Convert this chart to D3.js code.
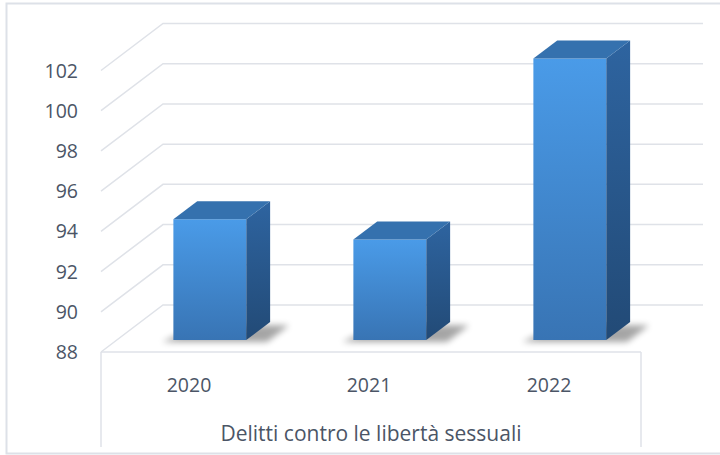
<!DOCTYPE html>
<html>
<head>
<meta charset="utf-8">
<script src="https://cdn.jsdelivr.net/npm/d3@7"></script>
<style>
  html, body { margin: 0; padding: 0; background: #ffffff; }
  svg { display: block; }
  text { font-family: "Open Sans", "Noto Sans", sans-serif; fill: #4b5566; }
</style>
</head>
<body>
<script>
// Data
const categories = ["2020", "2021", "2022"];
const values = [94, 93, 102];
const yTicks = [88, 90, 92, 94, 96, 98, 100, 102];
const groupLabel = "Delitti contro le libertà sessuali";

const W = 720, H = 455;
const svg = d3.select("body").append("svg").attr("width", W).attr("height", H);

// Front plane of the 3D box (depth 0) and the depth vector to the back wall (depth 1)
const floorLeft = 101, floorRight = 641;
const depthVec = [62, -47];
const y = d3.scaleLinear().domain([88, 102]).range([352, 70.5]);
const x = d3.scaleBand().domain(categories).range([floorLeft, floorRight])
  .paddingInner(0.595).paddingOuter(0.2975);
const barShift = 3;

// project a point at front-plane x, value v and depth d
const P = (px, v, d) => [px + d * depthVec[0], y(v) + d * depthVec[1]];

const gridColor = "#dfe2e8";
const defs = svg.append("defs");

// Outer chart border
svg.append("path")
  .attr("d", `M${W + 2},3.5 H6.5 V453.5 H${W + 2}`)
  .attr("fill", "none").attr("stroke", "#dde1e8").attr("stroke-width", 2);

// Gridlines: side wall diagonals + back wall horizontals
const grid = svg.append("g").attr("fill", "none").attr("stroke", gridColor).attr("stroke-width", 1.5);
yTicks.forEach(v => {
  const a = P(floorLeft, v, 0), b = P(floorLeft, v, 1), c = P(floorRight, v, 1);
  grid.append("path").attr("d", `M${a[0]},${a[1]} L${b[0]},${b[1]} L${c[0]},${c[1]}`);
});

// Floor front edge and multi-level category separators
const f0 = P(floorLeft, 88, 0), f1 = P(floorRight, 88, 0);
grid.append("path").attr("d", `M${f0[0]},${f0[1]} H${f1[0]}`);
grid.append("path").attr("d", `M${f0[0]},${f0[1]} V447`);
grid.append("path").attr("d", `M${f1[0]},${f1[1]} V447`);

// Value axis labels
svg.append("g").selectAll("text").data(yTicks).join("text")
  .attr("x", 78).attr("y", d => y(d)).attr("dy", "0.36em")
  .attr("text-anchor", "end").attr("font-size", 19.5)
  .text(d => d);

// Category labels
svg.append("g").selectAll("text").data(categories).join("text")
  .attr("x", d => x(d) + x.bandwidth() / 2 - 2).attr("y", 385).attr("dy", "0.36em")
  .attr("text-anchor", "middle").attr("font-size", 19.5)
  .text(d => d);

svg.append("text")
  .attr("x", (floorLeft + floorRight) / 2).attr("y", 433).attr("dy", "0.36em")
  .attr("text-anchor", "middle").attr("font-size", 21)
  .text(groupLabel);

// Gradients for the bar faces
const gFront = defs.append("linearGradient").attr("id", "gFront").attr("x1", 0).attr("y1", 0).attr("x2", 0).attr("y2", 1);
gFront.append("stop").attr("offset", "0%").attr("stop-color", "#4a9be8");
gFront.append("stop").attr("offset", "100%").attr("stop-color", "#3874b4");
const gSide = defs.append("linearGradient").attr("id", "gSide").attr("x1", 0).attr("y1", 0).attr("x2", 0).attr("y2", 1);
gSide.append("stop").attr("offset", "0%").attr("stop-color", "#2e64a0");
gSide.append("stop").attr("offset", "100%").attr("stop-color", "#224a76");
const blur = defs.append("filter").attr("id", "shadowBlur")
  .attr("x", "-50%").attr("y", "-50%").attr("width", "200%").attr("height", "200%");
blur.append("feGaussianBlur").attr("stdDeviation", 3);

// Bars occupy depth d0..d1 of the box
const d0 = 12 / 47, d1 = 0.64;
const poly = pts => "M" + pts.map(p => p.join(",")).join("L") + "Z";

const bars = svg.append("g");
categories.forEach((c, i) => {
  const v = values[i];
  const xl = x(c) + barShift, xr = xl + x.bandwidth();
  const g = bars.append("g");

  // soft shadow on the floor around the base
  const s = [P(xl - 10, 88, d0 - 0.02), P(xr + 22, 88, d0 - 0.02), P(xr + 22, 88, d1 - 0.05), P(xl + 5, 88, d1 - 0.05)];
  g.append("path").attr("d", poly(s.map(p => [p[0], p[1] + 1])))
    .attr("fill", "#000").attr("opacity", 0.35).attr("filter", "url(#shadowBlur)");

  const ftl = P(xl, v, d0), ftr = P(xr, v, d0), fbl = P(xl, 88, d0), fbr = P(xr, 88, d0);
  const btl = P(xl, v, d1), btr = P(xr, v, d1), bbr = P(xr, 88, d1);

  // front face
  g.append("path").attr("d", poly([ftl, ftr, fbr, fbl])).attr("fill", "url(#gFront)");
  // side face
  g.append("path").attr("d", poly([ftr, btr, bbr, fbr])).attr("fill", "url(#gSide)");
  // top face
  g.append("path").attr("d", poly([ftl, btl, btr, ftr])).attr("fill", "#3571ae");
});
</script>
</body>
</html>
